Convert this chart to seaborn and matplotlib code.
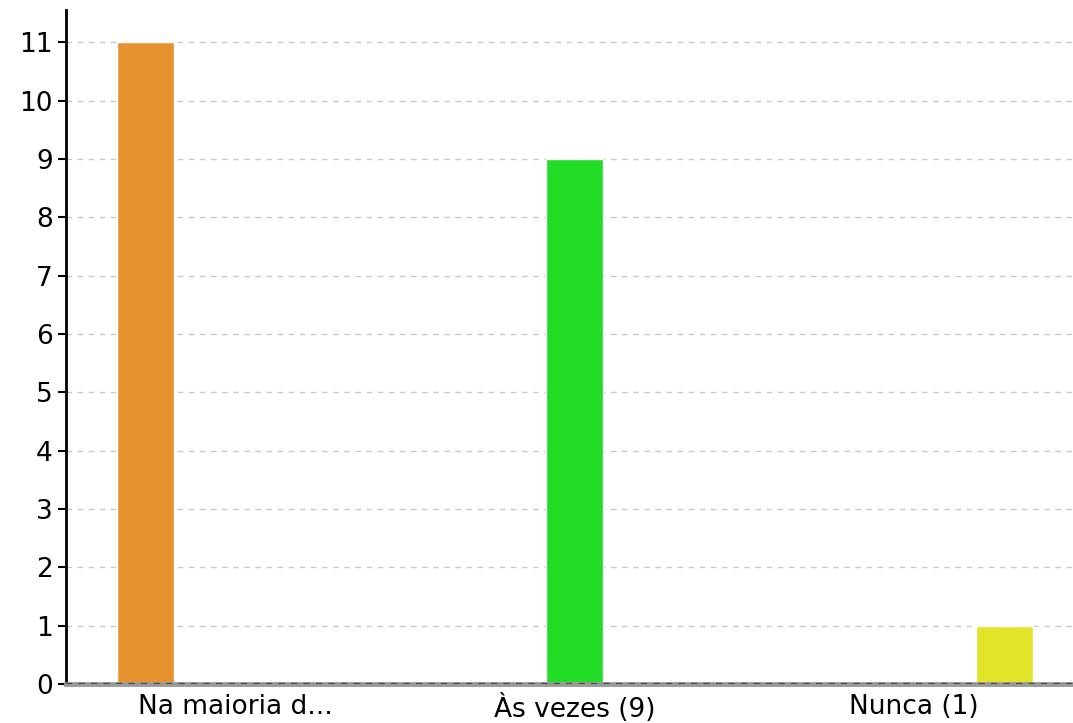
import numpy as np
import pandas as pd
import matplotlib
matplotlib.use("Agg")
import matplotlib.pyplot as plt
import seaborn as sns

# data
categories = ["Na maioria d...", "Às vezes (9)", "Nunca (1)"]
counts = [11, 9, 1]
colors = ["#E6922E", "#22DD26", "#E2E42A"]

df = pd.DataFrame({"resposta": categories, "n": counts})

sns.set_style("white")
plt.rcParams['font.family'] = ['DejaVu Sans']

fig = plt.figure(figsize=(10.73, 7.23), dpi=100)
ax = fig.add_axes([0.0615, 0.054, 0.9385, 0.932])

# one bar per category, dodged by hue like the original grouped layout
sns.barplot(data=df, x="resposta", y="n", hue="resposta", order=categories,
            hue_order=categories, palette=colors, dodge=True, gap=0.37,
            width=0.8, saturation=1, legend=False, ax=ax)

ax.set_xlim(-0.5, 2.47)
ax.set_ylim(0, 11.55)
ax.set_yticks(range(0, 12))
ax.grid(axis="y", color="#c8c8c8", linestyle=(0, (4, 4)), linewidth=1)
ax.set_axisbelow(True)
ax.axhline(0, color="#444444", linestyle=(0, (3, 3)), linewidth=1.5, zorder=5)

for s in ["top", "right"]:
    ax.spines[s].set_visible(False)
ax.spines["left"].set_color("black")
ax.spines["left"].set_linewidth(2)
ax.spines["bottom"].set_color("#999999")
ax.spines["bottom"].set_linewidth(3.5)

ax.tick_params(axis="y", labelsize=19, length=6, width=1.5, color="black",
               labelcolor="black", left=True)
ax.tick_params(axis="x", labelsize=19, length=0, pad=7, labelcolor="black")
ax.set_xlabel("")
ax.set_ylabel("")

fig.savefig("out.png", dpi=100)
